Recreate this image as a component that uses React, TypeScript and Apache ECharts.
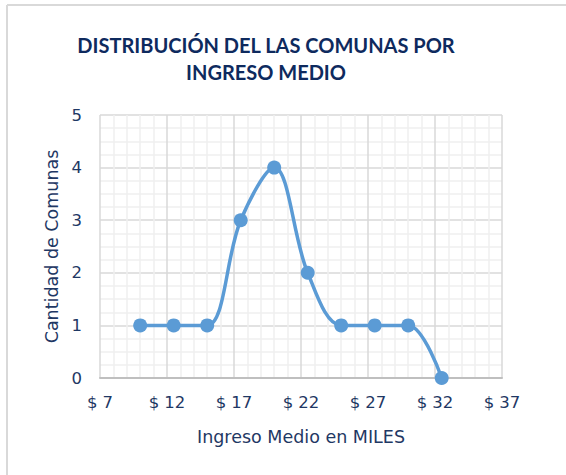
import React, { useEffect, useRef } from "react";
import * as echarts from "echarts";

const titleLines = ["DISTRIBUCIÓN DEL LAS COMUNAS POR", "INGRESO MEDIO"];
const xAxisName = "Ingreso Medio en MILES";
const yAxisName = "Cantidad de Comunas";
const ingresos = [10, 12.5, 15, 17.5, 20, 22.5, 25, 27.5, 30, 32.5];
const cantidades = [1, 1, 1, 3, 4, 2, 1, 1, 1, 0];
const xMin = 7;
const xMax = 37;
const xStep = 5;
const yMax = 5;

const navy = "#1F3864";
const font = "'DejaVu Sans', sans-serif";
const titleFont = "Lato, 'Open Sans', sans-serif";

export default function App() {
  const ref = useRef<HTMLDivElement>(null);
  useEffect(() => {
    if (!ref.current) return;
    const chart = echarts.init(ref.current, undefined, { renderer: "svg" });
    chart.setOption({
      animation: false,
      backgroundColor: "#ffffff",
      graphic: [
        { type: "line", shape: { x1: 7, y1: 5, x2: 566, y2: 5 }, style: { stroke: "#D9D9D9", lineWidth: 2 } },
        { type: "line", shape: { x1: 7, y1: 5, x2: 7, y2: 475 }, style: { stroke: "#D9D9D9", lineWidth: 2 } },
        {
          type: "text",
          x: 266,
          y: 58,
          style: {
            text: titleLines.join("\n"),
            fill: "#0E2A5E",
            font: `bold 20px ${titleFont}`,
            textAlign: "center",
            textVerticalAlign: "middle",
            lineHeight: 27,
          },
        },
      ],
      grid: { left: 100, top: 115, right: 64, bottom: 97 },
      xAxis: {
        type: "value",
        min: 0,
        max: xMax - xMin,
        interval: xStep,
        name: xAxisName,
        nameLocation: "middle",
        nameGap: 50,
        nameTextStyle: { color: navy, fontSize: 17.5, fontFamily: font },
        axisLine: { show: true, lineStyle: { color: "#BFBFBF", width: 2 } },
        axisTick: { show: false },
        axisLabel: {
          color: navy,
          fontSize: 16.5,
          fontFamily: font,
          margin: 16,
          formatter: (v: number) => "$ " + (v + xMin),
        },
        splitLine: { show: true, lineStyle: { color: "#D9D9D9", width: 1.5 } },
        minorTick: { show: false, splitNumber: 5 },
        minorSplitLine: { show: true, lineStyle: { color: "#EFEFEF", width: 1.5 } },
      },
      yAxis: {
        type: "value",
        min: 0,
        max: yMax,
        interval: 1,
        name: yAxisName,
        nameLocation: "middle",
        nameGap: 39,
        nameTextStyle: { color: navy, fontSize: 17.5, fontFamily: font },
        axisLine: { show: false },
        axisTick: { show: false },
        axisLabel: { color: navy, fontSize: 16.5, fontFamily: font, margin: 18 },
        splitLine: { show: true, lineStyle: { color: "#D9D9D9", width: 1.5 } },
        minorTick: { show: false, splitNumber: 4 },
        minorSplitLine: { show: true, lineStyle: { color: "#EFEFEF", width: 1.5 } },
      },
      series: [
        {
          type: "line",
          data: ingresos.map((x, i) => [x - xMin, cantidades[i]]),
          smooth: 0.35,
          clip: false,
          symbol: "circle",
          symbolSize: 14,
          lineStyle: { color: "#5B9BD5", width: 3.5 },
          itemStyle: { color: "#5B9BD5" },
        },
      ],
    });
    return () => chart.dispose();
  }, []);
  return (
    <div
      ref={ref}
      style={{ position: "fixed", left: 0, top: 0, width: 566, height: 475 }}
    />
  );
}
